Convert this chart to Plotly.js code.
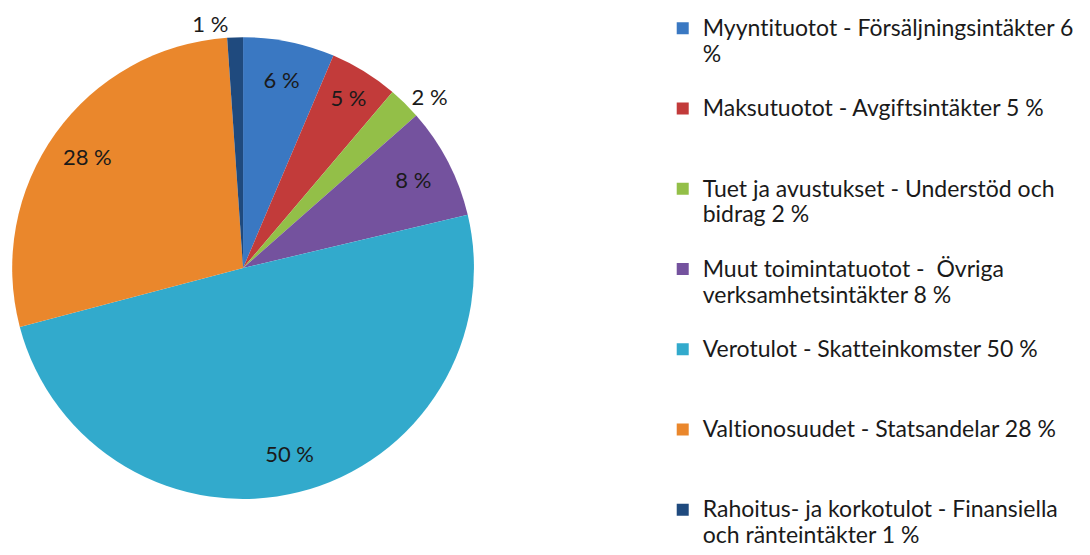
<!DOCTYPE html>
<html>
<head>
<meta charset="utf-8">
<script src="https://cdn.plot.ly/plotly-3.0.1.min.js"></script>
<style>
html,body{margin:0;padding:0;background:#fff;}
#chart{width:1090px;height:555px;}
#chart text{font-variant-ligatures:none;font-feature-settings:"liga" 0,"clig" 0;}
</style>
</head>
<body>
<div id="chart"></div>
<script>
// Data (shares of revenue)
const categoryLines = [
  ["Myyntituotot - Försäljningsintäkter 6", "%"],
  ["Maksutuotot - Avgiftsintäkter 5 %"],
  ["Tuet ja avustukset - Understöd och", "bidrag 2 %"],
  ["Muut toimintatuotot -  Övriga", "verksamhetsintäkter 8 %"],
  ["Verotulot - Skatteinkomster 50 %"],
  ["Valtionosuudet - Statsandelar 28 %"],
  ["Rahoitus- ja korkotulot - Finansiella", "och ränteintäkter 1 %"]
];
const values = [6.4, 4.8, 2.3, 7.8, 49.6, 28.0, 1.1];
const sliceLabels = ["6 %", "5 %", "2 %", "8 %", "50 %", "28 %", "1 %"];
const colors = ["#3A78C2", "#C23B3A", "#93BF48", "#74529E", "#32AACC", "#EA872C", "#1F4A7E"];
const outsideLabel = [false, false, true, false, false, false, true];

const FONT = "Lato, 'Open Sans', sans-serif";

// legend labels: entries padded to three lines so all take the same height
// (the last one is left unpadded so the legend fits the page)
const legendLabels = categoryLines.map(function (lines, i) {
  const out = lines.map(function (l) { return '<span style="font-size:23px">' + l + '</span>'; });
  const target = (i === categoryLines.length - 1) ? lines.length : 3;
  while (out.length < target) out.push("\u00a0");
  return out.join("<br>");
});

const domain = { x: [0.011, 0.435], y: [0.101, 0.933] };

// main pie (slices, legend, outside labels)
const pie = {
  type: "pie",
  labels: legendLabels,
  values: values,
  text: sliceLabels.map(function (t, i) { return outsideLabel[i] ? t : ""; }),
  textinfo: "text",
  textposition: outsideLabel.map(function (o) { return o ? "outside" : "none"; }),
  sort: false,
  direction: "clockwise",
  rotation: 0,
  marker: { colors: colors, line: { color: "#ffffff", width: 0 } },
  outsidetextfont: { family: FONT, size: 22, color: "#1a1a1a" },
  domain: domain,
  hoverinfo: "label+percent"
};

// transparent ring carrying the inside labels near the outer edge of each slice
const labelRing = {
  type: "pie",
  labels: legendLabels,
  values: values,
  text: sliceLabels.map(function (t, i) { return outsideLabel[i] ? "" : t; }),
  textinfo: "text",
  textposition: "inside",
  insidetextorientation: "horizontal",
  hole: 0.66,
  sort: false,
  direction: "clockwise",
  rotation: 0,
  showlegend: false,
  marker: { colors: values.map(function () { return "rgba(0,0,0,0)"; }), line: { width: 0 } },
  insidetextfont: { family: FONT, size: 22, color: "#1a1a1a" },
  domain: domain,
  hoverinfo: "skip"
};

const layout = {
  width: 1090,
  height: 555,
  margin: { l: 0, r: 0, t: 0, b: 0 },
  paper_bgcolor: "#ffffff",
  showlegend: true,
  legend: {
    x: 0.608,
    y: 0.972,
    xanchor: "left",
    yanchor: "top",
    valign: "top",
    font: { family: FONT, size: 19.8, color: "#1a1a1a" },
    itemwidth: 30,
    bgcolor: "rgba(0,0,0,0)"
  }
};

Plotly.newPlot("chart", [pie, labelRing], layout, { displayModeBar: false, staticPlot: true });
</script>
</body>
</html>
